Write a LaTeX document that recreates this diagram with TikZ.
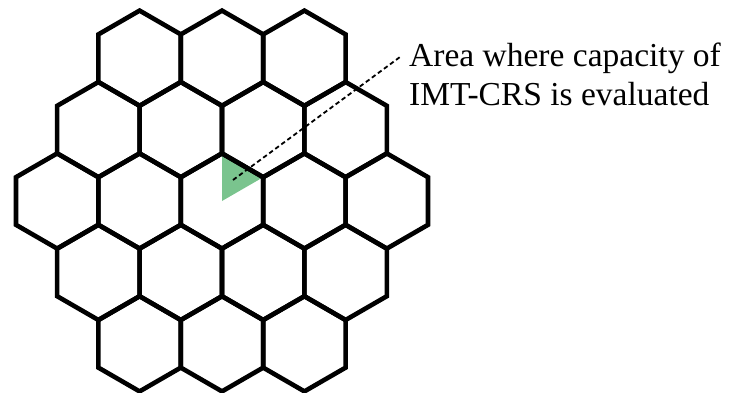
\documentclass[tikz,border=0pt]{standalone}
\usepackage{fontspec}
\setmainfont{Liberation Serif}
\definecolor{areagreen}{RGB}{122,196,142}
\tikzset{
  hexline/.style={line width=4.6pt, line join=miter},
  leader/.style={line width=1.8pt, dash pattern=on 4.5pt off 3pt},
  lbl/.style={anchor=base west, inner sep=0pt, font=\fontsize{33.5}{40}\selectfont}
}
\begin{document}
\begin{tikzpicture}[x=1pt,y=-1pt]
\useasboundingbox (0,0) rectangle (729,392);
\def\R{47.6}
\def\W{82.4}
\def\V{71.4}
% green area: centre, top vertex, upper-right vertex of the central cell
\coordinate (c) at (222,201);
\fill[areagreen] (c) -- (222,201-\R) -- (222+41.22,201-23.8) -- cycle;
% hexagonal cells
\foreach \r in {-2,...,2}{
  \pgfmathtruncatemacro{\n}{5-abs(\r)}
  \pgfmathtruncatemacro{\m}{\n-1}
  \foreach \k in {0,...,\m}{
    \pgfmathsetmacro{\cx}{222+(\k-(\n-1)/2)*\W}
    \pgfmathsetmacro{\cy}{201+\r*\V}
    \draw[hexline] (\cx,\cy) ++(30:\R) -- ++(150:\R) -- ++(210:\R) -- ++(270:\R) -- ++(330:\R) -- ++(30:\R) -- cycle;
  }
}
% label and leader
\node[lbl] (l1) at (409,66) {Area where capacity of};
\node[lbl] (l2) at (409,105) {IMT-CRS is evaluated};
\coordinate (tri) at (233,180);
\coordinate (lend) at (400,57);
\draw[leader] (tri) -- (lend);
\end{tikzpicture}
\end{document}
